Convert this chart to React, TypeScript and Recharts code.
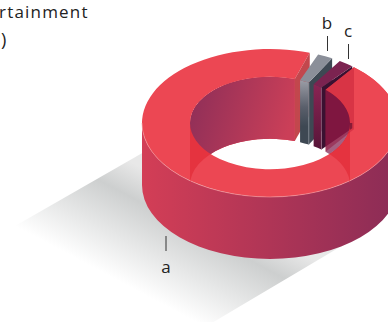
import { Pie, PieChart } from 'recharts'

const categories = ['a', 'b', 'c']
const shares = [96, 2, 2]

const pieData = categories.map((name, i) => ({ name, value: shares[i] }))

// squash of the circle into the tilted plane, and how tall the ring is
const TILT = 0.578
const DEPTH = 62
// the leading edge of the big slice is not quite radial in the drawing
const TIP_SKEW = 3

const TEXT = '#222222'
const FONT = '"Open Sans", sans-serif'

const slabColors: Record<string, { top: string; side: string; inner: string; edge: string }> = {
    b: { top: '#8b8f99', side: '#3e4853', inner: 'url(#slabB)', edge: '#8d949c' },
    c: { top: '#7b2350', side: '#3a1131', inner: 'url(#slabC)', edge: '#a06a88' },
}

function geometry(props: any) {
    const { cx, cy, innerRadius: r, outerRadius: R, startAngle: s, endAngle: e } = props
    const pt = (deg: number, rad: number, dy = 0) => {
        const a = (deg * Math.PI) / 180
        return `${cx + rad * Math.cos(a)} ${cy - TILT * rad * Math.sin(a) + dy}`
    }
    const arc = (from: number, to: number, rad: number, dy = 0) => {
        const large = Math.abs(to - from) > 180 ? 1 : 0
        const sweep = to < from ? 1 : 0
        return `A ${rad} ${rad * TILT} 0 ${large} ${sweep} ${pt(to, rad, dy)}`
    }
    const band = (from: number, to: number, rad: number) =>
        `M ${pt(from, rad)} ${arc(from, to, rad)} L ${pt(to, rad, DEPTH)} ${arc(to, from, rad, DEPTH)} Z`
    const face = (from: number, to: number, skew = 0) =>
        `M ${pt(from + skew, R)} ${arc(from + skew, to, R)} L ${pt(to, r)} ${arc(to, from, r)} Z`
    const cut = (deg: number, skew = 0) =>
        `M ${pt(deg, r)} L ${pt(deg + skew, R)} L ${pt(deg + skew, R, DEPTH)} L ${pt(deg, r, DEPTH)} Z`
    return { cx, cy, r, R, s, e, pt, arc, band, face, cut }
}

// everything of the big slice that sits behind the two thin ones
function BackLayer(props: any) {
    const name = props.payload?.name ?? props.name
    const g = geometry(props)
    if (name !== 'a') {
        const c = slabColors[name]
        return (
            <g>
                <path d={g.band(g.s, g.e, g.r)} fill={c.inner} />
                <path d={g.cut(g.e)} fill={c.side} />
                <path d={g.face(g.s, g.e)} fill={c.top} />
                <path d={`M ${g.pt(g.e, g.r)} L ${g.pt(g.e, g.r, DEPTH)}`} stroke={c.edge} strokeWidth={0.7} fill="none" />
            </g>
        )
    }
    const back = g.e + 360
    return (
        <g>
            <clipPath id="holeBack">
                <ellipse cx={g.cx} cy={g.cy} rx={g.r} ry={g.r * TILT} />
            </clipPath>
            <path d={g.band(0, -180, g.R)} fill="url(#outerWall)" />
            <path d={g.face(g.s, g.e, TIP_SKEW)} fill="#ec4753" />
            <path d={`M ${g.pt(0, g.R)} ${g.arc(0, -180, g.R)}`} fill="none" stroke="#f6a0a4" strokeWidth={0.6} />
            <path d={g.band(180, back, g.r)} fill="#e5333f" />
            <path d={g.band(180, back, g.r)} fill="url(#innerWall)" clipPath="url(#holeBack)" />
            <path d={g.cut(back)} fill="#c2474d" />
        </g>
    )
}

// the tip of the big slice that overlaps the thin ones, partly see-through
function FrontLayer(props: any) {
    const name = props.payload?.name ?? props.name
    if (name !== 'a') return <g />
    const g = geometry(props)
    const ry = g.r * TILT
    const outside =
        `M ${g.cx - 2 * g.R} ${g.cy - 2 * g.R} h ${4 * g.R} v ${4 * g.R} h ${-4 * g.R} Z ` +
        `M ${g.cx - g.r} ${g.cy} a ${g.r} ${ry} 0 1 0 ${2 * g.r} 0 a ${g.r} ${ry} 0 1 0 ${-2 * g.r} 0 Z`
    return (
        <g>
            <clipPath id="holeFront">
                <ellipse cx={g.cx} cy={g.cy} rx={g.r} ry={ry} />
            </clipPath>
            <clipPath id="outsideHole">
                <path d={outside} clipRule="evenodd" />
            </clipPath>
            <path d={g.face(g.s, 0, TIP_SKEW)} fill="#ec4753" />
            <path d={g.band(g.s, 0, g.r)} fill="#e5333f" clipPath="url(#outsideHole)" />
            <path d={g.cut(g.s, TIP_SKEW)} fill="#c9243a" fillOpacity={0.55} />
            <path d={g.band(g.s, 0, g.r)} fill="#7a1545" fillOpacity={0.68} clipPath="url(#holeFront)" />
        </g>
    )
}

export default function App() {
    return (
        <div style={{ position: 'fixed', left: 0, top: 0, width: 388, height: 322, overflow: 'hidden', background: '#fff' }}>
            <PieChart width={388} height={322} margin={{ top: 0, right: 0, bottom: 0, left: 0 }}>
                <defs>
                    <linearGradient id="outerWall" x1="0" y1="0" x2="1" y2="0">
                        <stop offset="0" stopColor="#d33e56" />
                        <stop offset="1" stopColor="#8b2c56" />
                    </linearGradient>
                    <linearGradient id="innerWall" x1="0" y1="0" x2="1" y2="0.3">
                        <stop offset="0" stopColor="#8c2e58" />
                        <stop offset="1" stopColor="#cb3f58" />
                    </linearGradient>
                    <linearGradient id="slabB" x1="0" y1="0" x2="0" y2="1">
                        <stop offset="0" stopColor="#9b9da6" />
                        <stop offset="0.42" stopColor="#5a5f6b" />
                        <stop offset="0.72" stopColor="#3e4853" />
                        <stop offset="1" stopColor="#3e4853" />
                    </linearGradient>
                    <linearGradient id="slabC" x1="0" y1="0" x2="0" y2="1">
                        <stop offset="0" stopColor="#8a2453" />
                        <stop offset="1" stopColor="#571538" />
                    </linearGradient>
                    <linearGradient id="ground" gradientUnits="userSpaceOnUse" x1="15" y1="226" x2="67" y2="128">
                        <stop offset="0" stopColor="#ffffff" />
                        <stop offset="0.72" stopColor="#cdcfcf" />
                        <stop offset="1" stopColor="#e8e8e8" />
                    </linearGradient>
                </defs>
                <polygon points="15,226 165,140 345,244 200,330" fill="url(#ground)" />
                <Pie
                    data={pieData}
                    dataKey="value"
                    nameKey="name"
                    cx={270}
                    cy={123}
                    innerRadius={80}
                    outerRadius={128}
                    startAngle={46}
                    endAngle={-314}
                    paddingAngle={4}
                    stroke="none"
                    label={false}
                    labelLine={false}
                    isAnimationActive={false}
                    shape={BackLayer}
                />
                <Pie
                    data={pieData}
                    dataKey="value"
                    nameKey="name"
                    cx={270}
                    cy={123}
                    innerRadius={80}
                    outerRadius={128}
                    startAngle={46}
                    endAngle={-314}
                    paddingAngle={4}
                    stroke="none"
                    label={false}
                    labelLine={false}
                    isAnimationActive={false}
                    shape={FrontLayer}
                />
                <text x={-1} y={18} fontFamily={FONT} fontSize={17} letterSpacing={1.2} fill={TEXT}>rtainment</text>
                <text x={1} y={46} fontFamily={FONT} fontSize={18} fill={TEXT}>)</text>
                <line x1={166} y1={236} x2={166} y2={251} stroke="#333" />
                <text x={166} y={273} textAnchor="middle" fontFamily={FONT} fontSize={17} fill={TEXT}>a</text>
                <line x1={327.5} y1={36} x2={327.5} y2={51} stroke="#333" />
                <text x={327} y={29} textAnchor="middle" fontFamily={FONT} fontSize={17} fill={TEXT}>b</text>
                <line x1={348.5} y1={44} x2={348.5} y2={59} stroke="#333" />
                <text x={348} y={37} textAnchor="middle" fontFamily={FONT} fontSize={17} fill={TEXT}>c</text>
            </PieChart>
        </div>
    )
}
